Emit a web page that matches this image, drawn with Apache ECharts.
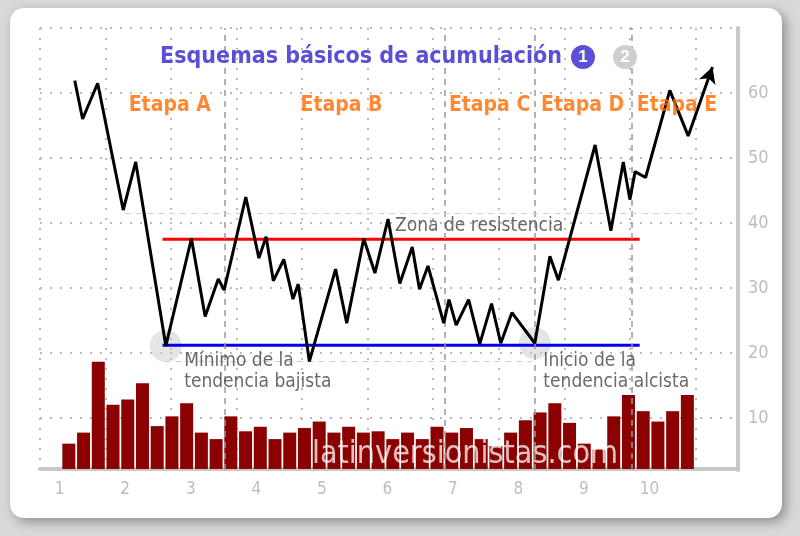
<!DOCTYPE html>
<html><head><meta charset="utf-8">
<script src="https://cdn.jsdelivr.net/npm/echarts@6/dist/echarts.min.js"></script>
<style>html,body{margin:0;padding:0;background:#d9d9d9}#c{width:800px;height:536px}</style>
</head><body><div id="c"></div>
<script>
const priceX = [1.23,1.35,1.58,1.97,2.16,2.62,3.01,3.22,3.42,3.51,3.84,4.04,4.15,4.26,4.42,4.56,4.64,4.81,5.21,5.38,5.64,5.81,6.01,6.19,6.38,6.49,6.62,6.86,6.94,7.05,7.24,7.41,7.59,7.73,7.90,8.25,8.48,8.61,9.17,9.41,9.60,9.70,9.78,9.94,10.31,10.59,10.96];
const priceY = [61.9,56.0,61.5,42.0,49.4,21.1,37.6,25.6,31.4,29.7,44.0,34.6,37.9,31.1,34.4,28.3,30.6,18.7,32.9,24.6,37.6,32.3,40.6,30.7,36.3,29.8,33.4,24.6,28.2,24.3,28.2,21.4,27.6,21.5,26.2,21.5,34.9,31.2,52.0,38.8,49.4,43.6,47.9,47.0,60.4,53.4,64.0];
const volume = [3.9,5.6,16.5,9.9,10.7,13.2,6.6,8.1,10.1,5.6,4.6,8.1,5.8,6.5,4.6,5.6,6.3,7.3,5.6,6.5,5.6,5.8,4.6,5.6,4.6,6.5,5.6,6.3,4.6,3.5,5.6,7.5,8.7,10.1,7.1,3.9,3.0,8.1,11.4,8.9,7.3,8.9,11.4];
const volStart = 1.14, volStep = 0.2247;
const xTicks = [1,2,3,4,5,6,7,8,9,10];
const yTicks = [10,20,30,40,50,60];
const resistance = 37.5, support = 21.2, lineFrom = 2.57, lineTo = 9.85;
const stageBounds = [3.52,6.88,8.25,9.73];
const stageNames = ['Etapa A','Etapa B','Etapa C','Etapa D','Etapa E'];
const stageLabelX = [2.68,5.3,7.56,8.98,10.42];
const keyPoints = [[2.62,21.1],[8.25,21.5]];

const volData = volume.map((v,i)=>[volStart+i*volStep, v]);
const priceData = priceX.map((x,i)=>{
  const d = {value:[x, priceY[i]]};
  if (i === priceX.length-1) { d.symbol='arrow'; d.symbolSize=[13,16]; d.symbolRotate=-19; }
  return d;
});
const chart = echarts.init(document.getElementById('c'));
const font = "'Liberation Sans Narrow','DejaVu Sans Condensed',sans-serif";
chart.setOption({
  animation:false,
  backgroundColor:'#d9d9d9',
  graphic:[
    {type:'rect',shape:{x:10,y:8,width:772,height:510,r:14},style:{fill:'#fff',shadowBlur:12,shadowColor:'rgba(0,0,0,0.35)',shadowOffsetX:4,shadowOffsetY:4},z:-10},
    {type:'text',x:562,y:57,style:{text:'Esquemas básicos de acumulación',fill:'#5a4fd6',font:"bold 23px "+font,align:'right',verticalAlign:'middle'},z:10},
    {type:'circle',shape:{cx:583,cy:57,r:12},style:{fill:'#5a4fd6'},z:10},
    {type:'text',x:583,y:57,style:{text:'1',fill:'#fff',font:'bold 17px sans-serif',align:'center',verticalAlign:'middle'},z:11},
    {type:'circle',shape:{cx:625,cy:57,r:12},style:{fill:'#cfcfcf'},z:10},
    {type:'text',x:625,y:57,style:{text:'2',fill:'#fff',font:'bold 17px sans-serif',align:'center',verticalAlign:'middle'},z:11},
    {type:'text',x:465,y:455,style:{text:'latinversionistas.com',fill:'rgba(255,255,255,0.75)',font:"32px "+font,align:'center',verticalAlign:'middle',shadowBlur:10,shadowColor:'rgba(180,0,0,0.4)'},z:20}
  ],
  grid:[{left:40,right:62,top:28,bottom:66},{left:40,right:62,top:340,bottom:67}],
  xAxis:[
    {gridIndex:0,type:'value',min:0.7,max:11.35,axisLine:{show:false},axisTick:{show:false},axisLabel:{show:false},
     splitLine:{show:true,lineStyle:{type:[2,8],color:'#bbb',width:2}},interval:1},
    {gridIndex:1,type:'value',min:0.7,max:11.35,axisLine:{show:true,lineStyle:{color:'#c8c8c8',width:4}},axisTick:{show:false},
     splitLine:{show:false},axisLabel:{customValues:xTicks,color:'#bdbdbd',fontSize:17,fontFamily:font,margin:12}}
  ],
  yAxis:[
    {gridIndex:0,type:'value',position:'right',min:2,max:70,axisLine:{show:true,lineStyle:{color:'#c8c8c8',width:4}},axisTick:{show:false},
     axisLabel:{customValues:yTicks,color:'#bdbdbd',fontSize:18,fontFamily:font,margin:10},
     splitLine:{show:true,showMinLine:false,lineStyle:{type:[2,8],color:'#bbb',width:2}}},
    {gridIndex:1,type:'value',min:0,max:19.85,show:false}
  ],
  series:[
    {type:'bar',xAxisIndex:1,yAxisIndex:1,data:volData,barWidth:13,itemStyle:{color:'#8b0000'},z:2},
    {type:'line',xAxisIndex:0,yAxisIndex:0,data:[],silent:true,
     markLine:{symbol:'none',silent:true,label:{show:false},data:[
       ...stageBounds.map(x=>[{coord:[x,2]},{coord:[x,70],lineStyle:{type:[6,5],color:'#999',width:1.5}}]),
       [{coord:[2.0,41.5]},{coord:[10.7,41.5],lineStyle:{type:[6,5],color:'#f2c4c4',width:1}}],
       [{coord:[2.6,18.8]},{coord:[8.2,18.8],lineStyle:{type:[6,5],color:'#c9c9f2',width:1}}]
     ]}},
    {type:'scatter',xAxisIndex:0,yAxisIndex:0,data:keyPoints,symbolSize:32,itemStyle:{color:'rgba(200,200,200,0.6)'},z:3},
    {type:'line',xAxisIndex:0,yAxisIndex:0,data:[[lineFrom,resistance],[lineTo,resistance]],symbol:'none',lineStyle:{color:'#ff0000',width:3},z:4},
    {type:'line',xAxisIndex:0,yAxisIndex:0,data:[[lineFrom,support],[lineTo,support]],symbol:'none',lineStyle:{color:'#0000ee',width:3},z:4},
    {type:'line',xAxisIndex:0,yAxisIndex:0,data:priceData,symbol:'none',showSymbol:true,lineStyle:{color:'#000',width:3},itemStyle:{color:'#000'},z:6},
    {type:'scatter',xAxisIndex:0,yAxisIndex:0,symbolSize:0,z:8,
     data:stageNames.map((n,i)=>({value:[stageLabelX[i],58],label:{show:true,formatter:n,position:'inside',color:'#ff6a00',fontSize:21,fontWeight:'bold',fontFamily:font}}))
     .concat([
       {value:[7.4,39.5],label:{show:true,formatter:'Zona de resistencia',position:'inside',color:'#444',fontSize:19,fontFamily:font}},
       {value:[2.9,17.2],label:{show:true,formatter:'Mínimo de la\ntendencia bajista',position:'inside',align:'left',color:'#444',fontSize:19,lineHeight:21,fontFamily:font}},
       {value:[8.38,17.2],label:{show:true,formatter:'Inicio de la\ntendencia alcista',position:'inside',align:'left',color:'#444',fontSize:19,lineHeight:21,fontFamily:font}}
     ])}
  ]
});
</script></body></html>
